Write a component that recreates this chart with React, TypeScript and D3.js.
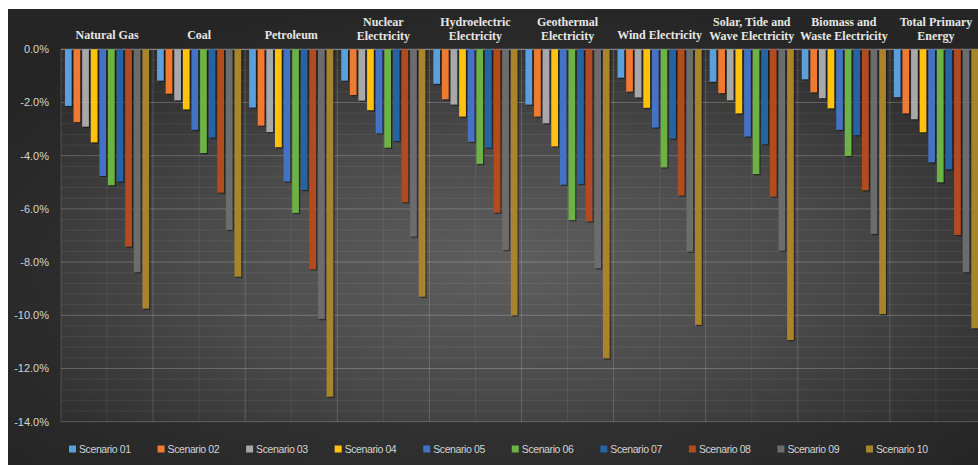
import React from "react";
import * as d3 from "d3";

// category labels ("\n" marks the line break used in the header)
const categories = [
  "Natural Gas",
  "Coal",
  "Petroleum",
  "Nuclear\nElectricity",
  "Hydroelectric\nElectricity",
  "Geothermal\nElectricity",
  "Wind Electricity",
  "Solar, Tide and\nWave Electricity",
  "Biomass and\nWaste Electricity",
  "Total Primary\nEnergy",
];

const scenarios = [
  "Scenario 01",
  "Scenario 02",
  "Scenario 03",
  "Scenario 04",
  "Scenario 05",
  "Scenario 06",
  "Scenario 07",
  "Scenario 08",
  "Scenario 09",
  "Scenario 10",
];

// % change per category, one array per scenario
const scenario01 = [-2.13, -1.18, -2.19, -1.18, -1.3, -2.08, -1.07, -1.22, -1.13, -1.8];
const scenario02 = [-2.74, -1.67, -2.87, -1.72, -1.88, -2.53, -1.59, -1.65, -1.62, -2.41];
const scenario03 = [-2.91, -1.92, -3.11, -1.93, -2.08, -2.78, -1.81, -1.92, -1.84, -2.63];
const scenario04 = [-3.5, -2.26, -3.68, -2.29, -2.53, -3.65, -2.2, -2.41, -2.22, -3.12];
const scenario05 = [-4.76, -3.03, -4.97, -3.16, -3.48, -5.09, -2.94, -3.28, -3.03, -4.25];
const scenario06 = [-5.11, -3.9, -6.15, -3.7, -4.31, -6.42, -4.44, -4.69, -4.01, -5.0];
const scenario07 = [-4.97, -3.32, -5.29, -3.45, -3.7, -5.06, -3.36, -3.57, -3.23, -4.51];
const scenario08 = [-7.42, -5.39, -8.27, -5.75, -6.14, -6.47, -5.5, -5.54, -5.3, -6.98];
const scenario09 = [-8.38, -6.79, -10.14, -7.04, -7.55, -8.23, -7.61, -7.57, -6.94, -8.38];
const scenario10 = [-9.75, -8.55, -13.06, -9.3, -10.0, -11.62, -10.36, -10.93, -9.95, -10.49];

const yTicks = [0, -2, -4, -6, -8, -10, -12, -14];

const colors = [
  "#5b9fdc",
  "#f07a30",
  "#a8a8a8",
  "#ffc20e",
  "#4472c4",
  "#6db244",
  "#2563a2",
  "#b24c1f",
  "#6c6c6c",
  "#a8852a",
];

const W = 978;
const H = 465;

export default function App() {
  const series = [
    scenario01, scenario02, scenario03, scenario04, scenario05,
    scenario06, scenario07, scenario08, scenario09, scenario10,
  ];

  const left = 61;
  const catW = 92.1;

  const x0 = d3
    .scaleBand()
    .domain(categories)
    .range([left, left + catW * categories.length]);

  const x1 = d3
    .scaleBand()
    .domain(scenarios)
    .range([0, x0.bandwidth()])
    .paddingInner(0.22)
    .paddingOuter(0.46);

  const y = d3.scaleLinear().domain([0, -14]).range([49.3, 421.7]);

  const color = d3.scaleOrdinal<string>().domain(scenarios).range(colors);

  const minorY = d3.range(0, -14.001, -0.4);
  const plotRight = x0.range()[1];

  const legendX = d3
    .scalePoint()
    .domain(scenarios)
    .range([69, 866]);

  return (
    <div style={{ position: "fixed", left: 0, top: 0 }}>
      <svg width={W} height={H} style={{ display: "block" }}>
        <defs>
          <radialGradient id="bgGrad" cx="50%" cy="60%" r="65%">
            <stop offset="0%" stopColor="#3c3c3c" />
            <stop offset="100%" stopColor="#252525" />
          </radialGradient>
          <radialGradient id="plotGrad" cx="48%" cy="58%" r="62%">
            <stop offset="0%" stopColor="#5e5e5e" />
            <stop offset="55%" stopColor="#4a4a4a" />
            <stop offset="100%" stopColor="#303030" />
          </radialGradient>
        </defs>
        <rect x={0} y={0} width={W} height={H} fill="#ffffff" />
        <rect x={8} y={9} width={W - 8} height={H - 9} fill="url(#bgGrad)" />
        <rect
          x={left}
          y={y(0)}
          width={plotRight - left}
          height={y(-14) - y(0)}
          fill="url(#plotGrad)"
        />

        {/* minor horizontal grid */}
        {minorY.map((v, i) => (
          <line
            key={"mh" + i}
            x1={left}
            x2={plotRight}
            y1={y(v)}
            y2={y(v)}
            stroke="#ffffff"
            strokeOpacity={0.07}
          />
        ))}
        {/* major horizontal grid */}
        {yTicks.map((v) => (
          <line
            key={"h" + v}
            x1={left}
            x2={plotRight}
            y1={y(v)}
            y2={y(v)}
            stroke="#ffffff"
            strokeOpacity={v === 0 ? 0.45 : 0.16}
          />
        ))}
        {/* vertical grid: boundaries and centres */}
        {categories.map((c) => (
          <g key={"v" + c}>
            <line
              x1={x0(c)!}
              x2={x0(c)!}
              y1={y(0)}
              y2={y(-14)}
              stroke="#ffffff"
              strokeOpacity={0.16}
            />
            <line
              x1={x0(c)! + x0.bandwidth() / 2}
              x2={x0(c)! + x0.bandwidth() / 2}
              y1={y(0)}
              y2={y(-14)}
              stroke="#ffffff"
              strokeOpacity={0.07}
            />
          </g>
        ))}

        {/* bars */}
        {series.map((vals, si) =>
          vals.map((v, ci) => {
            const bx = x0(categories[ci])! + x1(scenarios[si])!;
            const by = y(0);
            const bh = y(v) - y(0);
            return (
              <g key={`b${si}-${ci}`}>
                <rect
                  x={bx + 1.2}
                  y={by + 1.2}
                  width={x1.bandwidth()}
                  height={bh}
                  fill="#000"
                  fillOpacity={0.45}
                />
                <rect
                  x={bx}
                  y={by}
                  width={x1.bandwidth()}
                  height={bh}
                  fill={color(scenarios[si])}
                />
              </g>
            );
          })
        )}

        {/* y axis labels */}
        {yTicks.map((v) => (
          <text
            key={"t" + v}
            x={49}
            y={y(v)}
            dy="0.35em"
            textAnchor="end"
            fill="#d4d4d4"
            fontFamily="'Liberation Sans', Arial, sans-serif"
            fontSize={11}
          >
            {v.toFixed(1) + "%"}
          </text>
        ))}

        {/* category header */}
        {categories.map((c) => {
          const lines = c.split("\n");
          const cx = x0(c)! + x0.bandwidth() / 2;
          const base = lines.length === 1 ? 39 : 26;
          return (
            <text
              key={"c" + c}
              x={cx}
              textAnchor="middle"
              fill="#e6e6e6"
              fontFamily="'Liberation Serif', 'Times New Roman', serif"
              fontWeight="bold"
              fontSize={12}
            >
              {lines.map((l, i) => (
                <tspan key={i} x={cx} y={base + i * 14}>
                  {l}
                </tspan>
              ))}
            </text>
          );
        })}

        {/* legend */}
        {scenarios.map((s) => (
          <g key={"l" + s} transform={`translate(${legendX(s)},449)`}>
            <rect x={0} y={-3.5} width={7} height={7} fill={color(s)} />
            <text
              x={10}
              y={0}
              dy="0.35em"
              fill="#d4d4d4"
              fontFamily="'Liberation Sans', Arial, sans-serif"
              fontSize={10.5}
              letterSpacing={-0.4}
            >
              {s}
            </text>
          </g>
        ))}
      </svg>
    </div>
  );
}
